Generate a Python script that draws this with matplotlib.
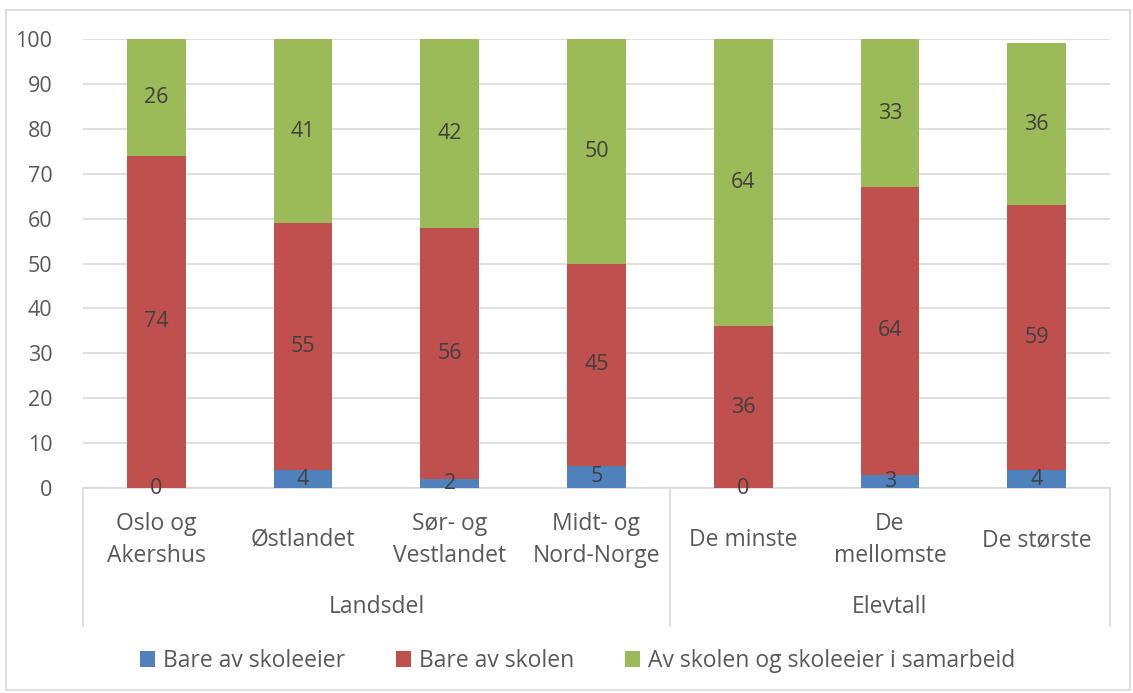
import matplotlib
matplotlib.use("Agg")
import matplotlib.pyplot as plt
from matplotlib.patches import Patch, Rectangle
import matplotlib.transforms as mtransforms

categories = ["Oslo og\nAkershus", "Østlandet", "Sør- og\nVestlandet", "Midt- og\nNord-Norge",
              "De minste", "De\nmellomste", "De største"]
groups = ["Landsdel", "Elevtall"]
group_sizes = [4, 3]
series_names = ["Bare av skoleeier", "Bare av skolen", "Av skolen og skoleeier i samarbeid"]
bare_skoleeier = [0, 4, 2, 5, 0, 3, 4]
bare_skolen = [74, 55, 56, 45, 36, 64, 59]
samarbeid = [26, 41, 42, 50, 64, 33, 36]
yticks = [0, 10, 20, 30, 40, 50, 60, 70, 80, 90, 100]

colors = ["#4F81BD", "#C0504D", "#9BBB59"]
tick_color = "#595959"
label_color = "#404040"
grid_color = "#D9D9D9"
FS = 16.5
FS_NUM = 15.5

plt.rcParams['font.family'] = ['Open Sans', 'DejaVu Sans']

W, H = 1133, 693
fig = plt.figure(figsize=(W / 100, H / 100), dpi=100)
ax = fig.add_axes([83 / W, 1 - 488 / H, (1110 - 83) / W, (488 - 39) / H])

x = list(range(len(categories)))
series = [bare_skoleeier, bare_skolen, samarbeid]
bottom = [0] * len(x)
for vals, col in zip(series, colors):
    ax.bar(x, vals, width=0.4, bottom=bottom, color=col, zorder=3)
    for xi, b, v in zip(x, bottom, vals):
        ax.text(xi, b + v / 2, f"{v}", ha="center", va="center", fontsize=FS_NUM,
                color=label_color, zorder=4)
    bottom = [b + v for b, v in zip(bottom, vals)]

ax.set_xlim(-0.5, len(x) - 0.5)
ax.set_ylim(0, 100)
ax.set_yticks(yticks)
ax.yaxis.grid(True, color=grid_color, lw=1.2, zorder=0)
ax.set_axisbelow(True)
for s in ["top", "right", "left"]:
    ax.spines[s].set_visible(False)
ax.spines["bottom"].set_color(grid_color)
ax.spines["bottom"].set_linewidth(1.2)
ax.tick_params(axis="y", length=0, pad=22, labelsize=FS_NUM, labelcolor=tick_color)
ax.tick_params(axis="x", length=0, labelbottom=False)

trans = mtransforms.blended_transform_factory(ax.transData, ax.transAxes)
axh = 488 - 39
def yfrac(py):
    return (488 - py) / axh

# category labels
for xi, lab in zip(x, categories):
    ax.text(xi, yfrac(540), lab, transform=trans, ha="center", va="center", fontsize=FS,
            color=tick_color, linespacing=1.45)

# group separators and labels
start = 0
seps = [-0.5]
for g, n in zip(groups, group_sizes):
    center = start + (n - 1) / 2
    ax.text(center, yfrac(607), g, transform=trans, ha="center", va="center",
            fontsize=FS, color=tick_color)
    start += n
    seps.append(start - 0.5)
for sx in seps:
    ax.plot([sx, sx], [0, yfrac(626)], transform=trans, color=grid_color, lw=1.2,
            clip_on=False, zorder=1)

# legend
handles = [Patch(facecolor=c, edgecolor="none") for c in colors]
leg = fig.legend(handles, series_names, loc="center",
                 bbox_to_anchor=(577.5 / W, 1 - 661 / H),
                 ncol=3, frameon=False, fontsize=FS, handlelength=0.66, handleheight=0.66,
                 handletextpad=0.36, columnspacing=2.2, labelcolor=tick_color)

# outer border
fig.patches.append(Rectangle((6 / W, 1 - 690 / H), (1130 - 6) / W, (690 - 10) / H,
                             transform=fig.transFigure, fill=False, edgecolor=grid_color,
                             lw=1.2))

fig.savefig("out.png", dpi=100)
